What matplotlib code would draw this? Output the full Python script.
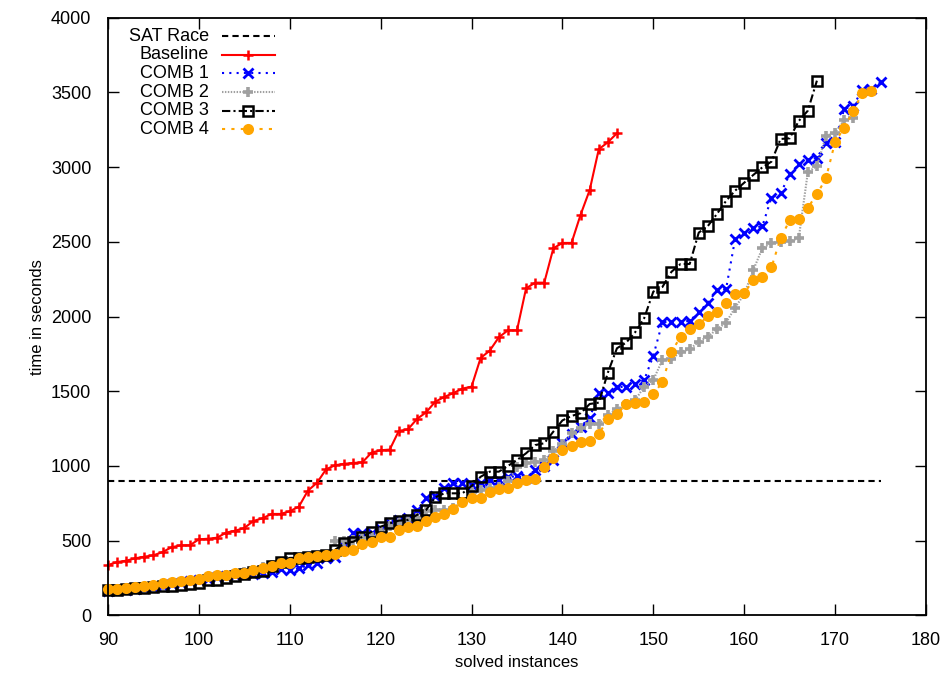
import matplotlib
matplotlib.use("Agg")
import matplotlib.pyplot as plt
from matplotlib.lines import Line2D

plt.rcParams['font.family'] = ['Liberation Sans', 'DejaVu Sans']

# solved instances (x) and cumulative solve times in seconds (y)
sat_race_limit = 900
sat_race_end = 175

baseline_x = list(range(90, 147))
baseline_y = [337, 357, 366, 382, 393, 402, 424, 456, 469, 469,
              509, 513, 520, 554, 567, 585, 632, 650, 679, 679,
              697, 728, 835, 888, 978, 1005, 1015, 1020, 1025, 1090,
              1105, 1110, 1235, 1245, 1315, 1359, 1430, 1462, 1488, 1518,
              1531, 1723, 1772, 1861, 1908, 1908, 2189, 2227, 2227, 2457,
              2493, 2493, 2682, 2847, 3120, 3167, 3227]

comb1_x = list(range(90, 176))
comb1_y = [165, 168, 172, 178, 185, 192, 200, 210, 220, 228,
           236, 245, 255, 262, 268, 275, 280, 282, 293, 309,
           305, 315, 335, 353, 382, 393, 470, 550, 550, 550,
           580, 620, 640, 650, 705, 784, 800, 855, 884, 884,
           870, 884, 906, 906, 928, 930, 922, 973, 1000, 1040,
           1152, 1214, 1263, 1323, 1487, 1487, 1527, 1531, 1547, 1576,
           1738, 1962, 1966, 1966, 1971, 2030, 2093, 2178, 2183, 2519,
           2557, 2590, 2606, 2796, 2825, 2952, 3019, 3048, 3064, 3160,
           3170, 3388, 3412, 3517, 3522, 3568]

comb2_x = list(range(90, 173))
comb2_y = [170, 172, 176, 182, 190, 198, 206, 214, 222, 230,
           240, 255, 262, 268, 278, 290, 305, 322, 340, 352,
           360, 378, 388, 396, 400, 495, 500, 505, 515, 525,
           560, 600, 620, 640, 650, 700, 705, 705, 720, 760,
           828, 840, 850, 861, 900, 991, 1018, 1029, 1040, 1100,
           1150, 1219, 1252, 1281, 1281, 1341, 1380, 1415, 1440, 1531,
           1576, 1710, 1714, 1765, 1781, 1832, 1866, 1915, 1959, 2060,
           2150, 2312, 2457, 2495, 2501, 2506, 2524, 2966, 3008, 3209,
           3231, 3316, 3327]

comb3_x = list(range(90, 169))
comb3_y = [170, 172, 175, 180, 185, 190, 195, 200, 205, 212,
           220, 237, 240, 248, 262, 280, 293, 300, 330, 359,
           385, 385, 390, 395, 405, 440, 482, 493, 527, 560,
           594, 616, 634, 639, 672, 705, 790, 817, 817, 817,
           866, 928, 962, 962, 1000, 1040, 1085, 1140, 1152, 1230,
           1305, 1335, 1353, 1415, 1424, 1625, 1788, 1825, 1895, 1990,
           2167, 2198, 2300, 2352, 2352, 2562, 2606, 2687, 2774, 2843,
           2896, 2948, 2999, 3037, 3189, 3193, 3309, 3378, 3579]

comb4_x = list(range(90, 175))
comb4_y = [175, 177, 181, 188, 197, 206, 215, 222, 230, 237,
           244, 266, 272, 272, 282, 282, 302, 319, 331, 349,
           353, 386, 391, 400, 404, 409, 430, 440, 478, 493,
           523, 523, 572, 594, 598, 634, 656, 679, 712, 759,
           788, 788, 826, 844, 855, 888, 906, 911, 991, 1056,
           1107, 1134, 1159, 1167, 1214, 1312, 1346, 1415, 1420, 1430,
           1482, 1560, 1763, 1866, 1917, 1948, 2002, 2033, 2094, 2149,
           2156, 2245, 2263, 2330, 2524, 2644, 2651, 2729, 2818, 2926,
           3169, 3264, 3376, 3495, 3510]

x_ticks = list(range(90, 181, 10))
y_ticks = list(range(0, 4001, 500))

series = [
    dict(label="Baseline", x=baseline_x, y=baseline_y, color="#ff0000",
         marker="+", ms=7.5, mew=1.8, mfc="#ff0000", dashes=None),
    dict(label="COMB 1", x=comb1_x, y=comb1_y, color="#0000ff",
         marker="x", ms=7, mew=2.0, mfc="#0000ff", dashes=(1, 2.5)),
    dict(label="COMB 2", x=comb2_x, y=comb2_y, color="#a0a0a0",
         marker="+", ms=7.5, mew=2.6, mfc="#a0a0a0", dashes=(0.7, 0.7)),
    dict(label="COMB 3", x=comb3_x, y=comb3_y, color="#000000",
         marker="s", ms=7.5, mew=1.8, mfc="none", dashes=(4, 1.5, 1, 1.5)),
    dict(label="COMB 4", x=comb4_x, y=comb4_y, color="#ffa500",
         marker="o", ms=8, mew=0, mfc="#ffa500", dashes=(1.5, 3)),
]

fig = plt.figure(figsize=(9.44, 6.73), dpi=100)
ax = fig.add_axes([0.1144, 0.0856, 0.9809 - 0.1144, 0.9736 - 0.0856])

ax.plot([90, sat_race_end], [sat_race_limit, sat_race_limit], color="black",
        lw=1.5, dashes=(3, 2))

for s in series:
    kw = dict(color=s["color"], lw=1.5, marker=s["marker"], ms=s["ms"],
              mew=s["mew"], mfc=s["mfc"], mec=s["color"], clip_on=False)
    if s["dashes"] is None:
        ax.plot(s["x"], s["y"], ls="-", **kw)
    else:
        ax.plot(s["x"], s["y"], dashes=s["dashes"], **kw)

ax.set_xlim(90, 180)
ax.set_ylim(0, 4000)
ax.set_xticks(x_ticks)
ax.set_yticks(y_ticks)
ax.tick_params(direction="in", length=8, width=1, labelsize=13, pad=12,
               top=True, right=True, colors="black")
for sp in ax.spines.values():
    sp.set_linewidth(1.3)

ax.set_xlabel("solved instances", fontsize=12)
ax.set_ylabel("time in seconds", fontsize=12)

# key in the upper-left corner: label right-aligned, sample to its right
legend_rows = [dict(label="SAT Race", color="black", marker=None, ms=0, mew=0,
                    mfc="none", dashes=(3, 2))] + series
for i, s in enumerate(legend_rows):
    yy = 1 - (18.5 + i * 18.6) / (615.4 - 17.8)
    ax.text((209 - 108) / 818, yy, s["label"], transform=ax.transAxes,
            ha="right", va="center", fontsize=13)
    ln = Line2D([(222 - 108) / 818, (275 - 108) / 818], [yy, yy],
                transform=ax.transAxes, color=s["color"], lw=1.5)
    if s["dashes"] is None:
        ln.set_linestyle("-")
    else:
        ln.set_dashes(s["dashes"])
    ax.add_line(ln)
    if s["marker"]:
        ax.add_line(Line2D([(248 - 108) / 818], [yy], transform=ax.transAxes,
                           ls="none", marker=s["marker"], ms=s["ms"],
                           mew=s["mew"], mfc=s["mfc"], mec=s["color"]))

fig.savefig("out.png", dpi=100)
